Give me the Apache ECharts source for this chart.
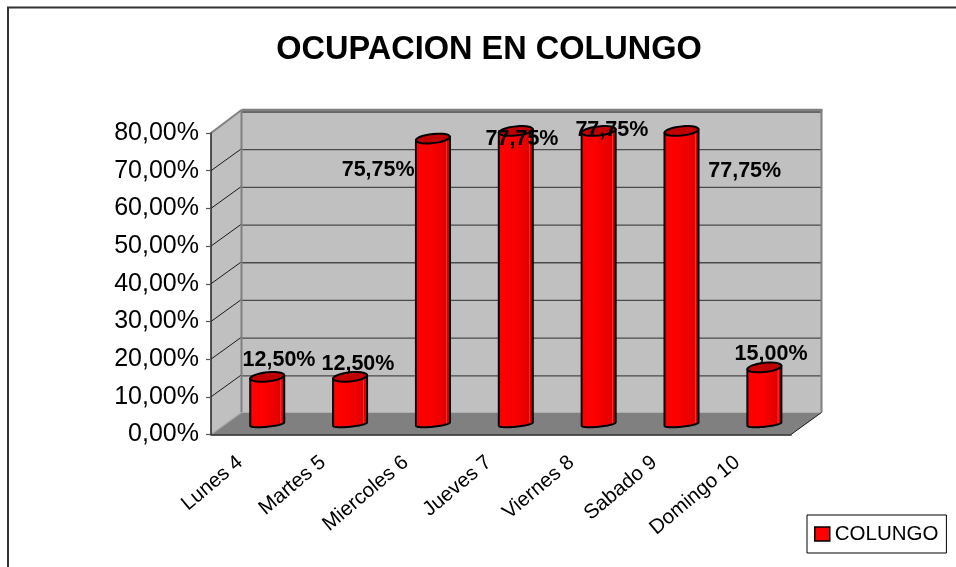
<!DOCTYPE html>
<html><head><meta charset="utf-8">
<style>html,body{margin:0;padding:0;background:#fff}#c{width:956px;height:567px}</style>
<script src="https://cdn.jsdelivr.net/npm/echarts@6/dist/echarts.min.js"></script>
</head><body><div id="c"></div>
<script>
const categories = ['Lunes 4','Martes 5','Miercoles 6','Jueves 7','Viernes 8','Sabado 9','Domingo 10'];
const ocupacion = [12.5, 12.5, 75.75, 77.75, 77.75, 77.75, 15];
const seriesName = 'COLUNGO';
const yTicks = [0,10,20,30,40,50,60,70,80];
const chartTitle = 'OCUPACION EN COLUNGO';
// manual data-label displacement from each column's value point, as in the source chart
const labelShift = [[26.6,-27],[22.7,-23],[-40,21.5],[21,-2],[28,-11],[78,30],[21.5,-24]];
const DEPTH = [30.5,-22];
const BAR_SHIFT = [14.8,-10.5];
const BAR_W = 34, EL_B = 4.6, EL_B_LOW = 2.8, EL_K = 0.1;
const FONT = '"Liberation Sans", Arial, sans-serif';
const fmt = v => v.toFixed(2).replace('.',',') + '%';

function renderWalls(params, api){
  const cs = params.coordSys;
  const y0 = api.coord([0,0])[1], yT = api.coord([0,80])[1];
  const xL = cs.x, xR = cs.x + cs.width, dx = DEPTH[0], dy = DEPTH[1];
  const ch = [];
  const poly = (pts, fill) => ch.push({type:'polygon',shape:{points:pts},style:{fill:fill,stroke:null},silent:true});
  const line = (a,b,c,w) => ch.push({type:'line',shape:{x1:a[0],y1:a[1],x2:b[0],y2:b[1]},style:{stroke:c,lineWidth:w},silent:true});
  poly([[xL+dx,yT+dy],[xR+dx,yT+dy],[xR+dx,y0+dy],[xL+dx,y0+dy]],'#c0c0c0');
  poly([[xL,y0],[xL+dx,y0+dy],[xL+dx,yT+dy],[xL,yT]],'#c0c0c0');
  poly([[xL,y0],[xR,y0],[xR+dx,y0+dy],[xL+dx,y0+dy]],'#808080');
  yTicks.forEach(t => {
    if(t===0) return;
    const y = api.coord([0,t])[1];
    line([xL+dx,y+dy+1],[xR+dx,y+dy+1],'#4a4a4a',1.3);
    if(t!==80) line([xL,y],[xL+dx,y+dy],'#1a1a1a',1);
  });
  line([xL+dx,yT+dy-1],[xR+dx+1,yT+dy-1],'#808080',2.4);
  line([xL,yT],[xL+dx,yT+dy-1],'#808080',2);
  line([xL+dx,yT+dy-1],[xL+dx,y0+dy],'#808080',2);
  line([xR+dx,yT+dy-1],[xR+dx,y0+dy],'#808080',2);
  line([xL,y0],[xL+dx,y0+dy],'#a8a8a8',1.4);
  line([xR,y0],[xR+dx,y0+dy],'#1a1a1a',1);
  return {type:'group',children:ch};
}

function ellipsePts(cx,cy,from,to,b){
  const pts=[], n=28;
  for(let i=0;i<=n;i++){
    const t=from+(to-from)*i/n, x=BAR_W/2*Math.cos(t);
    pts.push([cx+x, cy-EL_K*x+b*Math.sin(t)]);
  }
  return pts;
}
function renderBars(params, api){
  const i = api.value(0), v = api.value(1);
  const base = api.coord([i,0]), top = api.coord([i,v]);
  const cx = base[0]+BAR_SHIFT[0], yb = base[1]+BAR_SHIFT[1], yt = top[1]+BAR_SHIFT[1];
  const lower = ellipsePts(cx,yb,0,Math.PI,EL_B_LOW).reverse();
  const skew = BAR_W/2*EL_K;
  const body = [[cx-BAR_W/2,yt+skew]].concat(lower,[[cx+BAR_W/2,yt-skew]]);
  const grad = new echarts.graphic.LinearGradient(0,0,1,0,[
    {offset:0,color:'#ff0000'},{offset:.42,color:'#fb0000'},{offset:.86,color:'#e20000'},
    {offset:.87,color:'#f03030'},{offset:.89,color:'#f03030'},{offset:.9,color:'#dc0000'},{offset:1,color:'#d80000'}]);
  return {type:'group',children:[
    {type:'polygon',shape:{points:body},style:{fill:grad,stroke:'#000',lineWidth:2,lineJoin:'round'}},
    {type:'polygon',shape:{points:ellipsePts(cx,yt,0,Math.PI*2,EL_B)},style:{fill:'#c00000',stroke:'#000',lineWidth:2}}
  ]};
}
function renderLabels(params, api){
  const i = api.value(0), v = api.value(1), p = api.coord([i,v]);
  return {type:'text',silent:true,x:p[0]+labelShift[i][0],y:p[1]+labelShift[i][1],
    style:{text:fmt(v),fill:'#000',font:'bold 21.5px '+FONT,align:'center',verticalAlign:'middle'}};
}
const rows = ocupacion.map((v,i)=>[i,v]);
const chart = echarts.init(document.getElementById('c'));
chart.setOption({
  animation:false,
  backgroundColor:'#fff',
  title:{text:chartTitle,left:484,top:29,textAlign:'center',textStyle:{fontFamily:FONT,fontWeight:'bold',fontSize:32.5,color:'#000'}},
  legend:{data:[{name:seriesName,icon:'rect'}],left:807,top:515,padding:[8.5,8,8.5,7],itemWidth:15,itemHeight:14,itemGap:0,
    borderColor:'#000',borderWidth:1,backgroundColor:'#fff',selectedMode:false,
    itemStyle:{color:'#ff0000',borderColor:'#000',borderWidth:1.5},
    textStyle:{fontFamily:FONT,fontSize:20.5,color:'#000',padding:[0,0,0,0]}},
  graphic:[{type:'polyline',z:0,shape:{points:[[8,567],[8,7.5],[956,7.5]]},style:{stroke:'#333',lineWidth:2,fill:null},silent:true}],
  grid:{left:211,right:165,top:133,bottom:132.5},
  xAxis:{type:'category',data:categories,z:5,
    axisLine:{lineStyle:{color:'#222',width:1.5}},
    axisTick:{length:6,lineStyle:{color:'#555',width:1.2}},
    axisLabel:{rotate:40,interval:0,margin:15,padding:[0,16,0,0],fontFamily:FONT,fontSize:20.5,color:'#000'}},
  yAxis:{type:'value',min:0,max:80,interval:10,z:5,
    axisLine:{show:true,lineStyle:{color:'#222',width:1.5}},
    axisTick:{show:true,length:5,lineStyle:{color:'#555',width:1.2}},
    splitLine:{show:false},
    axisLabel:{margin:12,formatter:fmt,fontFamily:FONT,fontSize:25,color:'#000'}},
  series:[
    {type:'custom',name:'walls',z:1,silent:true,clip:false,data:[[0,0]],renderItem:renderWalls,encode:{x:0,y:1}},
    {type:'custom',name:seriesName,z:6,silent:true,clip:false,data:rows,renderItem:renderBars,encode:{x:0,y:1},itemStyle:{color:'#ff0000'}},
    {type:'custom',name:'labels',z:7,silent:true,clip:false,data:rows,renderItem:renderLabels,encode:{x:0,y:1}}
  ]
});
</script></body></html>
